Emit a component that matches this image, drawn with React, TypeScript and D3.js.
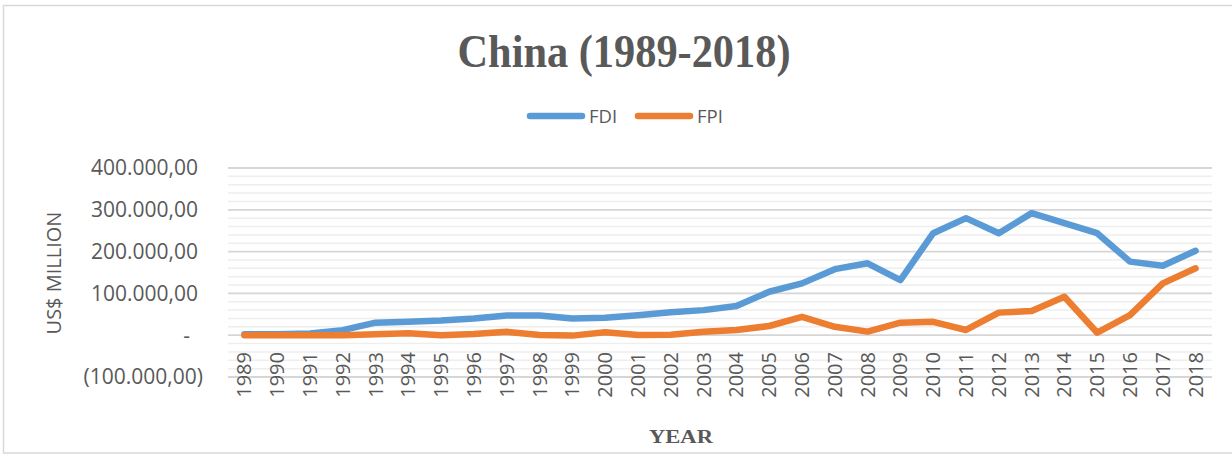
import React, { useEffect } from "react";
import * as d3 from "d3";

const years = d3.range(1989, 2019).map(String);
const fdi = [2000, 2000, 4000, 12000, 30000, 32000, 35000, 40000, 47000, 47000, 40000, 42000, 48000, 55000, 60000, 70000, 104000, 124000, 158000, 172000, 132000, 244000, 280000, 244000, 292000, 268000, 244000, 176000, 166000, 202000];
const fpi = [0, 0, 0, 0, 2000, 4500, 0, 3000, 8000, 500, -1000, 7000, 500, 1000, 8000, 12500, 22000, 44000, 20000, 8500, 30000, 32000, 12500, 54000, 58000, 92000, 6000, 48000, 124000, 160000];
const yTicks = [-100000, 0, 100000, 200000, 300000, 400000];
const series = [
  { name: "FDI", values: fdi, color: "#5B9BD5" },
  { name: "FPI", values: fpi, color: "#ED7D31" },
];

const W = 1232;
const H = 455;
const textColor = "#595959";
const sans = "'Open Sans', 'Liberation Sans', sans-serif";
const serif = "'Liberation Serif', 'Times New Roman', serif";

// 400.000,00 style (dots for thousands, comma for decimals)
function fmt(v: number) {
  if (v === 0) return "-";
  const s = d3.format(",.2f")(Math.abs(v)).replace(/,/g, "#").replace(".", ",").replace(/#/g, ".");
  return v < 0 ? "(" + s + ")" : s;
}

export default function App() {
  useEffect(() => {
    document.body.style.margin = "0";
  }, []);

  const x = d3.scaleBand().domain(years).range([228, 1212]);
  const y = d3.scaleLinear().domain([-100000, 400000]).range([377, 168]);
  const cx = (yr: string) => (x(yr) as number) + x.bandwidth() / 2;

  const line = d3
    .line<number>()
    .x((d, i) => cx(years[i]))
    .y((d) => y(d));

  const grid = d3.range(-100000, 400001, 20000);

  return (
    <svg width={W} height={H} style={{ display: "block", background: "#fff" }}>
      <rect x={3.5} y={5.5} width={1240} height={447.5} fill="#fff" stroke="#D9D9D9" strokeWidth={1.5} />

      <text x={624} y={67} textAnchor="middle" fontFamily={serif} fontWeight="bold" fontSize={47} fill={textColor} textLength={333} lengthAdjust="spacingAndGlyphs">
        China (1989-2018)
      </text>

      {series.map((s, i) => {
        const x0 = 530 + i * 108;
        return (
          <g key={s.name}>
            <line x1={x0} x2={x0 + 52} y1={116} y2={116} stroke={s.color} strokeWidth={6.5} strokeLinecap="round" />
            <text x={x0 + 59} y={122.5} fontFamily={sans} fontSize={18.5} fill={textColor}>
              {s.name}
            </text>
          </g>
        );
      })}

      {grid.map((g) => (
        <line
          key={g}
          x1={228}
          x2={1212}
          y1={y(g)}
          y2={y(g)}
          stroke={g % 100000 === 0 ? "#D6D6D6" : "#EEEEEE"}
          strokeWidth={g % 100000 === 0 ? 1.8 : 1.5}
        />
      ))}

      {yTicks.map((t) => (
        <text
          key={t}
          x={t < 0 ? 203 : t === 0 ? 190 : 198}
          y={y(t)}
          dy="0.35em"
          textAnchor="end"
          fontFamily={sans}
          fontSize={21}
          fill={textColor}
        >
          {fmt(t)}
        </text>
      ))}

      <text transform="translate(61,273) rotate(-90)" textAnchor="middle" fontFamily={sans} fontSize={20} fill={textColor}>
        US$ MILLION
      </text>

      {years.map((yr) => (
        <text
          key={yr}
          transform={`translate(${cx(yr)},352) rotate(-90)`}
          dy="0.35em"
          textAnchor="end"
          fontFamily={sans}
          fontSize={20}
          fill={textColor}
        >
          {yr}
        </text>
      ))}

      {series.map((s) => (
        <path
          key={s.name}
          d={line(s.values) || ""}
          fill="none"
          stroke={s.color}
          strokeWidth={6.5}
          strokeLinecap="round"
          strokeLinejoin="round"
        />
      ))}

      <text x={681} y={443} textAnchor="middle" fontFamily={serif} fontWeight="bold" fontSize={19} fill={textColor} textLength={64} lengthAdjust="spacingAndGlyphs">
        YEAR
      </text>
    </svg>
  );
}
